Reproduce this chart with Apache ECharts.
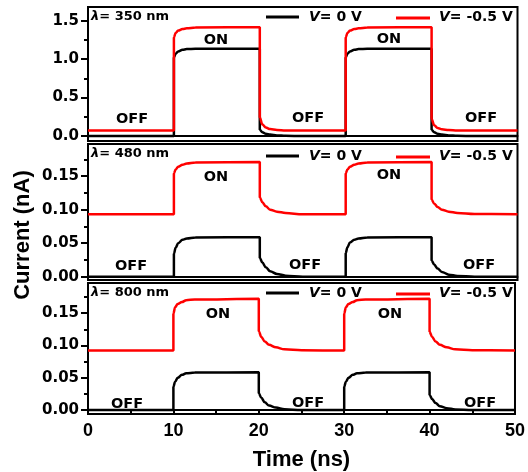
<!DOCTYPE html>
<html>
<head>
<meta charset="utf-8">
<script src="https://cdn.jsdelivr.net/npm/echarts@6/dist/echarts.min.js"></script>
<style>
  html, body { margin: 0; padding: 0; background: #fff; }
  #c { width: 528px; height: 472px; }
</style>
</head>
<body>
<div id="c"></div>
<script>
// Sampling times (ns); repeated times give the vertical switching edges
const timeNs = [0, 10, 10, 10.2, 10.5, 11, 11.5, 12.5, 20, 20, 20.3, 20.7, 21.2, 22, 23, 25,
                30, 30, 30.2, 30.5, 31, 31.5, 32.5, 40, 40, 40.3, 40.7, 41.2, 42, 43, 45, 50];

// Photocurrent (nA), 350 nm
const i350V0 = [0, 0, 1.02, 1.07, 1.10, 1.12, 1.13, 1.135, 1.135, 0.08, 0.05, 0.03, 0.018, 0.008, 0.003, 0,
                0, 1.02, 1.07, 1.10, 1.12, 1.13, 1.135, 1.135, 0.08, 0.05, 0.03, 0.018, 0.008, 0.003, 0, 0];
const i350Vm05 = [0.07, 0.07, 1.28, 1.34, 1.37, 1.39, 1.40, 1.41, 1.415, 0.24, 0.15, 0.11, 0.09, 0.078, 0.073, 0.07,
                  0.07, 1.28, 1.34, 1.37, 1.39, 1.40, 1.41, 1.415, 0.22, 0.14, 0.105, 0.088, 0.077, 0.072, 0.07, 0.07];

// Photocurrent (nA), 480 nm
const i480V0 = [0, 0, 0.034, 0.043, 0.050, 0.055, 0.057, 0.0585, 0.0588, 0.028, 0.021, 0.014, 0.008, 0.004, 0.0015, 0,
                0, 0.035, 0.044, 0.051, 0.055, 0.057, 0.0585, 0.0588, 0.024, 0.018, 0.012, 0.007, 0.003, 0.001, 0, 0];
const i480Vm05 = [0.093, 0.093, 0.154, 0.160, 0.164, 0.167, 0.169, 0.1705, 0.171, 0.118, 0.111, 0.105, 0.100, 0.097, 0.095, 0.093,
                  0.093, 0.154, 0.160, 0.164, 0.167, 0.169, 0.1705, 0.171, 0.115, 0.109, 0.104, 0.100, 0.097, 0.095, 0.0935, 0.093];

// Photocurrent (nA), 800 nm
const i800V0 = [0, 0, 0.036, 0.044, 0.050, 0.0545, 0.057, 0.058, 0.0585, 0.026, 0.019, 0.012, 0.007, 0.004, 0.0015, 0,
                0, 0.036, 0.044, 0.050, 0.0545, 0.057, 0.058, 0.0585, 0.0235, 0.017, 0.011, 0.006, 0.003, 0.001, 0, 0];
const i800Vm05 = [0.092, 0.092, 0.149, 0.159, 0.164, 0.167, 0.170, 0.171, 0.172, 0.122, 0.113, 0.106, 0.101, 0.097, 0.094, 0.0925,
                  0.092, 0.149, 0.159, 0.164, 0.167, 0.170, 0.171, 0.172, 0.121, 0.113, 0.106, 0.101, 0.097, 0.094, 0.0925, 0.092];

// Axis ticks
const xTicks = [0, 10, 20, 30, 40, 50];
const yTicksUV = [0, 0.5, 1.0, 1.5];
const yMinorUV = [0.25, 0.75, 1.25];
const yTicksVis = [0, 0.05, 0.10, 0.15];
const yMinorVis = [0.025, 0.075, 0.125, 0.175];

// Panel titles and legend entries
const wavelengths = ['350 nm', '480 nm', '800 nm'];
const biasNames = ['V = 0 V', 'V = -0.5 V'];

const BOLD_AXIS = 'bold 15px "DejaVu Sans"';
const LINE_W = 2.5;

const panels = [
  { top: 7,   height: 134, min: -0.065, max: 1.677, ticks: yTicksUV,  minor: yMinorUV,  dec: 1, traces: [i350V0, i350Vm05] },
  { top: 144, height: 136, min: -0.005, max: 0.198, ticks: yTicksVis, minor: yMinorVis, dec: 2, traces: [i480V0, i480Vm05] },
  { top: 283, height: 135, min: -0.006, max: 0.1965, ticks: yTicksVis, minor: yMinorVis, dec: 2, traces: [i800V0, i800Vm05] }
];

const pairs = ys => timeNs.map((t, k) => [t, ys[k]]);

const grid = [], xAxis = [], yAxis = [], series = [];
panels.forEach((p, i) => {
  const last = i === panels.length - 1;
  grid.push({ left: 88, right: 10.5, top: p.top, height: p.height, show: true,
              borderColor: '#000', borderWidth: 2, backgroundColor: 'transparent' });
  xAxis.push({
    gridIndex: i, type: 'value', min: 0, max: 50, interval: 10,
    name: last ? 'Time (ns)' : '', nameLocation: 'middle', nameGap: 35,
    nameTextStyle: { fontFamily: 'Liberation Sans', fontWeight: 'bold', fontSize: 22, color: '#000' },
    axisLine: { show: true, lineStyle: { color: '#000', width: 2 } },
    axisTick: { show: last, length: 5, lineStyle: { color: '#000', width: 2 } },
    minorTick: { show: last, splitNumber: 2, length: 3, lineStyle: { color: '#000', width: 2 } },
    axisLabel: { show: last, margin: 8, color: '#000', fontFamily: 'Liberation Sans', fontWeight: 'bold', fontSize: 18 },
    splitLine: { show: false }
  });
  yAxis.push({
    gridIndex: i, type: 'value', min: p.min, max: p.max, position: 'left',
    axisLine: { show: true, onZero: false, lineStyle: { color: '#000', width: 2 } },
    axisTick: { show: true, customValues: p.ticks, length: 7, lineStyle: { color: '#000', width: 2 } },
    axisLabel: { customValues: p.ticks, margin: 9, color: '#000', fontFamily: 'DejaVu Sans',
                 fontWeight: 'bold', fontSize: 15, formatter: v => Number(v).toFixed(p.dec) },
    splitLine: { show: false }
  });
  yAxis.push({
    gridIndex: i, type: 'value', min: p.min, max: p.max, position: 'left', offset: 0,
    axisLine: { show: false },
    axisTick: { show: true, customValues: p.minor, length: 4, lineStyle: { color: '#000', width: 2 } },
    axisLabel: { show: false },
    splitLine: { show: false }
  });
  ['#000000', '#ff0000'].forEach((col, k) => {
    series.push({
      type: 'line', name: biasNames[k], xAxisIndex: i, yAxisIndex: 2 * i,
      data: pairs(p.traces[k]), showSymbol: false, symbol: 'none',
      smooth: 0.35, smoothMonotone: 'x',
      lineStyle: { color: col, width: LINE_W }, itemStyle: { color: col },
      z: 3 + k
    });
  });
});

// Text overlays: wavelength tag, legend, ON/OFF state labels
const graphic = [];
const txt = (x, y, text, opts = {}) => graphic.push({
  type: 'text', z: 100,
  style: Object.assign({ x, y, text, fill: '#000', font: 'bold 14.5px "DejaVu Sans"',
                         textAlign: 'center', textVerticalAlign: 'middle' }, opts)
});
const richItalic = {
  i: { fontFamily: 'DejaVu Sans', fontWeight: 'bold', fontStyle: 'italic', fontSize: 14, fill: '#000' },
  n: { fontFamily: 'DejaVu Sans', fontWeight: 'bold', fontSize: 14, fill: '#000' }
};
const legendY = [17, 156, 293];
const lambdaY = [17, 154, 293];
legendY.forEach((y, i) => {
  txt(91, lambdaY[i], '{i|λ}{n|= ' + wavelengths[i] + '}', { textAlign: 'left', rich: {
    i: { fontFamily: 'DejaVu Sans', fontWeight: 'bold', fontStyle: 'italic', fontSize: 13, fill: '#000' },
    n: { fontFamily: 'DejaVu Sans', fontWeight: 'bold', fontSize: 13, fill: '#000' } } });
  graphic.push({ type: 'line', z: 100, shape: { x1: 266, y1: y, x2: 299, y2: y },
                 style: { stroke: '#000', lineWidth: 3 } });
  graphic.push({ type: 'line', z: 100, shape: { x1: 396, y1: y + 1, x2: 430, y2: y + 1 },
                 style: { stroke: '#ff0000', lineWidth: 3 } });
  txt(309, y, '{i|V}{n|' + biasNames[0].slice(1).trim() + '}', { textAlign: 'left', rich: richItalic });
  txt(439, y, '{i|V}{n|' + biasNames[1].slice(1).trim() + '}', { textAlign: 'left', rich: richItalic });
});
[[216, 40], [389, 39], [216, 177], [389, 175], [218, 314], [390, 314]].forEach(([x, y]) => txt(x, y, 'ON'));
[[132, 119], [308, 118], [481, 118], [131, 266], [305, 265], [479, 265], [127, 404], [308, 403], [480, 403]]
  .forEach(([x, y]) => txt(x, y, 'OFF'));
graphic.push({
  type: 'text', z: 100, x: 23, y: 235, rotation: Math.PI / 2,
  style: { text: 'Current (nA)', fill: '#000', font: 'bold 22px "Liberation Sans"',
           textAlign: 'center', textVerticalAlign: 'middle' }
});

const chart = echarts.init(document.getElementById('c'));
chart.setOption({
  animation: false,
  backgroundColor: '#fff',
  grid, xAxis, yAxis, series, graphic
});
</script>
</body>
</html>
